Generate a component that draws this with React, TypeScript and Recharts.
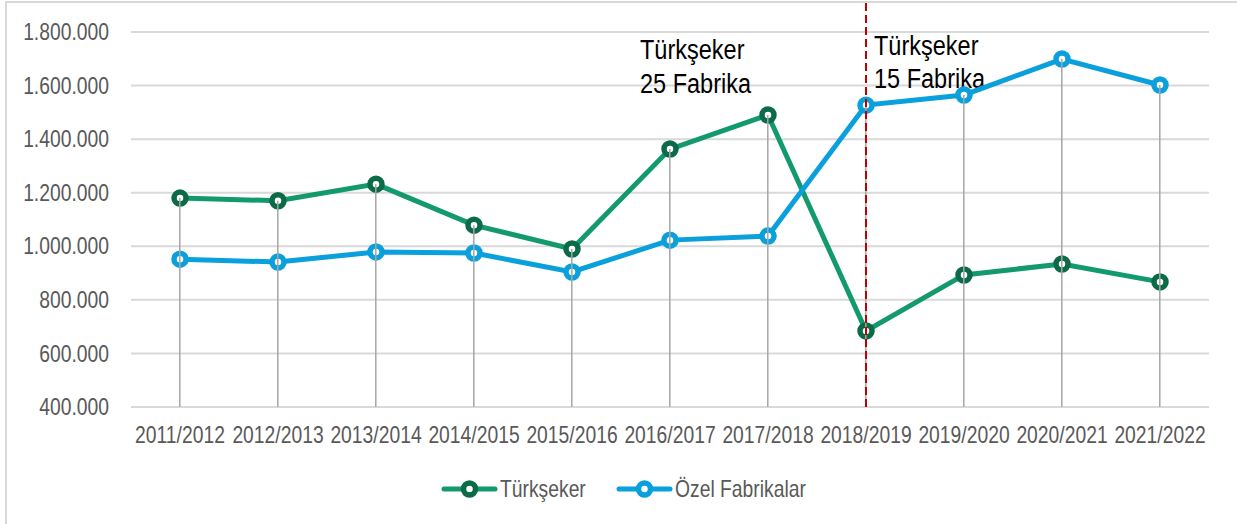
import React from 'react';
import {
  ComposedChart,
  Line,
  Bar,
  XAxis,
  YAxis,
  CartesianGrid,
  ReferenceLine,
  Legend,
  Customized,
} from 'recharts';

const categories = [
  '2011/2012', '2012/2013', '2013/2014', '2014/2015', '2015/2016', '2016/2017',
  '2017/2018', '2018/2019', '2019/2020', '2020/2021', '2021/2022',
];
const turkseker = [1180000, 1170000, 1232000, 1079000, 990000, 1363000, 1490000, 684000, 893000, 934000, 867000];
const ozel = [952000, 941000, 979000, 975000, 904000, 1023000, 1038000, 1527000, 1565000, 1699000, 1602000];
const yTicks = [400000, 600000, 800000, 1000000, 1200000, 1400000, 1600000, 1800000];
const seriesNames = ['Türkşeker', 'Özel Fabrikalar'];
const annotations = [
  { lines: ['Türkşeker', '25 Fabrika'] },
  { lines: ['Türkşeker', '15 Fabrika'] },
];

const data = categories.map((c, i) => ({
  cat: c,
  t: turkseker[i],
  o: ozel[i],
  drop: Math.max(turkseker[i], ozel[i]),
}));

const FONT = '"Liberation Sans", Arial, sans-serif';
const SX = 0.84;
const GREEN = '#129a6d';
const GREEN_DARK = '#0b6b48';
const BLUE = '#0aa0dc';
const TEXT_GRAY = '#595959';

const fmt = (v: number) => String(v).replace(/\B(?=(\d{3})+(?!\d))/g, '.');

const NarrowText = ({ x, y, anchor, dy, size, fill, children }: any) => (
  <g transform={`translate(${x},${y}) scale(${SX},1)`}>
    <text x={0} y={0} dy={dy} textAnchor={anchor} fontFamily={FONT} fontSize={size} fill={fill}>
      {children}
    </text>
  </g>
);

const XTick = (props: any) => {
  const { x, y, payload } = props;
  return (
    <NarrowText x={x} y={y} anchor="middle" dy="0.71em" size={23} fill={TEXT_GRAY}>
      {payload.value}
    </NarrowText>
  );
};

const YTick = (props: any) => {
  const { x, y, payload } = props;
  return (
    <NarrowText x={x} y={y} anchor="end" dy="0.355em" size={23} fill={TEXT_GRAY}>
      {fmt(payload.value)}
    </NarrowText>
  );
};

const DropLine = (props: any) => {
  const { x, y, width, height } = props;
  if (x == null || y == null) return null;
  const cx = x + width / 2;
  return <line x1={cx} x2={cx} y1={y} y2={y + height} stroke="#a6a6a6" strokeWidth={1.5} />;
};

const LegendContent = () => {
  const items = [
    { name: seriesNames[0], line: GREEN, mark: GREEN_DARK, x: 442 },
    { name: seriesNames[1], line: BLUE, mark: BLUE, x: 617 },
  ];
  return (
    <svg width={1237} height={40} style={{ display: 'block' }}>
      {items.map((it) => (
        <g key={it.name}>
          <line x1={it.x + 2} x2={it.x + 53} y1={20} y2={20} stroke={it.line} strokeWidth={5} strokeLinecap="round" />
          <circle cx={it.x + 27.5} cy={20} r={6} fill="#fff" stroke={it.mark} strokeWidth={5.5} />
          <NarrowText x={it.x + 58} y={20} anchor="start" dy="0.355em" size={23} fill={TEXT_GRAY}>
            {it.name}
          </NarrowText>
        </g>
      ))}
    </svg>
  );
};

const Annotations = () => (
  <g>
    <NarrowText x={640} y={59} anchor="start" dy={0} size={28} fill="#000">{annotations[0].lines[0]}</NarrowText>
    <NarrowText x={640} y={93} anchor="start" dy={0} size={28} fill="#000">{annotations[0].lines[1]}</NarrowText>
    <NarrowText x={874} y={55} anchor="start" dy={0} size={28} fill="#000">{annotations[1].lines[0]}</NarrowText>
    <NarrowText x={874} y={88} anchor="start" dy={0} size={28} fill="#000">{annotations[1].lines[1]}</NarrowText>
  </g>
);

export default function App() {
  return (
    <div style={{ position: 'absolute', left: 0, top: 0, width: 1237, height: 524, background: '#fff' }}>
      <div
        style={{
          position: 'absolute',
          left: 5,
          top: 1,
          width: 1240,
          height: 530,
          border: '2px solid #d9d9d9',
          boxSizing: 'border-box',
        }}
      />
      <ComposedChart
        width={1237}
        height={524}
        data={data}
        margin={{ top: 32, right: 28, left: 0, bottom: 15 }}
        style={{ position: 'absolute', left: 0, top: 0 }}
      >
        <CartesianGrid vertical={false} stroke="#d9d9d9" strokeWidth={2} />
        <XAxis
          dataKey="cat"
          height={62}
          tickSize={0}
          tickMargin={20}
          axisLine={{ stroke: '#d9d9d9', strokeWidth: 2 }}
          tick={XTick}
          interval={0}
        />
        <YAxis
          width={131}
          domain={[400000, 1800000]}
          ticks={yTicks}
          axisLine={false}
          tickSize={0}
          tickMargin={22}
          tick={YTick}
          allowDataOverflow
        />
        <Line
          dataKey="t"
          name={seriesNames[0]}
          stroke={GREEN}
          strokeWidth={5}
          dot={{ r: 6, fill: '#fff', stroke: GREEN_DARK, strokeWidth: 5.5 }}
          activeDot={false}
          isAnimationActive={false}
        />
        <Line
          dataKey="o"
          name={seriesNames[1]}
          stroke={BLUE}
          strokeWidth={5}
          dot={{ r: 6, fill: '#fff', stroke: BLUE, strokeWidth: 5.5 }}
          activeDot={false}
          isAnimationActive={false}
        />
        <Bar dataKey="drop" shape={DropLine} isAnimationActive={false} legendType="none" {...({ zIndex: 2000 } as any)} />
        <ReferenceLine
          segment={[
            { x: '2018/2019', y: 400000 },
            { x: '2018/2019', y: 1920000 },
          ]}
          stroke="#c00000"
          strokeWidth={2}
          strokeDasharray="8 4"
          ifOverflow="visible"
          {...({ zIndex: 2100 } as any)}
        />
        <Customized component={Annotations} />
        <Legend verticalAlign="bottom" height={40} content={LegendContent} />
      </ComposedChart>
    </div>
  );
}
